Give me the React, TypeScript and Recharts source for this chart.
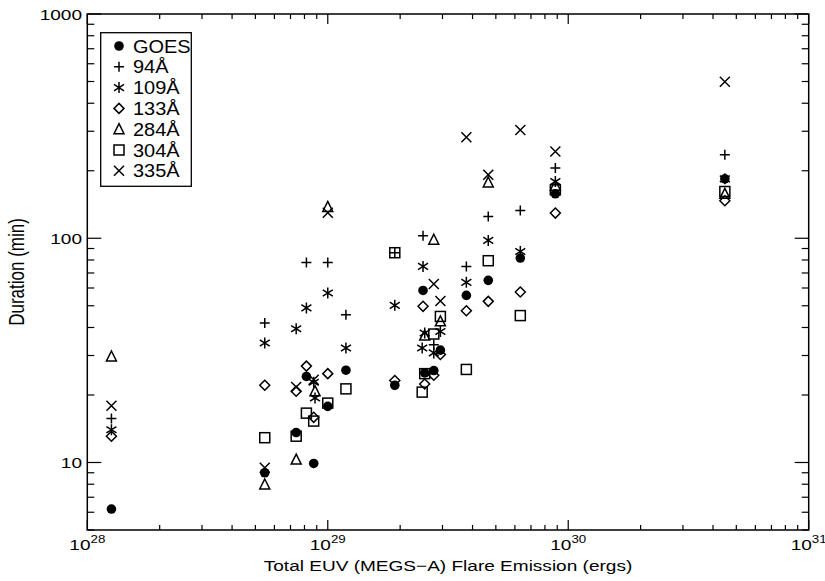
import { ScatterChart, Scatter, XAxis, YAxis, ReferenceArea, Legend } from 'recharts';

// flare energies (ergs) and the duration (min) seen in each channel; null = no measurement
const flareEnergy = [
  1.26e28, 5.47e28, 7.39e28, 8.15e28, 8.74e28, 8.85e28, 1.0e29, 1.19e29, 1.9e29, 2.47e29,
  2.49e29, 2.53e29, 2.76e29, 2.94e29, 3.77e29, 4.65e29, 6.32e29, 8.84e29, 4.48e30,
];
const goesDuration = [6.2, 9.0, 13.6, 24.2, 9.9, null, 17.8, 25.8, 22.1, null, 58.5, 25.1, 25.7, 31.7, 55.6, 64.9, 81.6, 157.8, 184];
const duration94 = [15.7, 41.9, null, 78.0, null, null, 78.0, 45.6, 86.2, null, 102.6, null, 33.5, null, 74.9, 125, 133, 205.5, 235.5];
const duration109 = [14.0, 34.1, 39.5, 48.9, 22.8, 19.4, 57.0, 32.4, 50.2, 32.4, 74.9, 37.8, 30.8, 38.4, 63.6, 97.8, 87.3, 179, 184];
const duration133 = [13.1, 22.1, 20.8, 26.9, 15.9, null, 24.9, null, 23.2, null, 49.7, 22.4, 24.5, 30.3, 47.5, 52.3, 57.6, 129.5, 146.9];
const duration284 = [29.7, 7.98, 10.3, null, null, 20.8, 138, null, null, null, null, 36.8, 98.5, 42.6, null, 177.3, null, 171.5, 157.8];
const duration304 = [null, 12.9, 13.1, 16.6, 15.3, null, 18.4, 21.3, 86.2, 20.6, null, 24.9, 37.4, 44.8, 26.0, 79.4, 45.2, 164.4, 161.6];
const duration335 = [17.9, 9.47, 21.7, null, 23.4, null, 130, null, null, null, null, null, 62.5, 52.5, 282, 191.8, 304, 243.6, 499];

const channelNames = ['GOES', '94Å', '109Å', '133Å', '284Å', '304Å', '335Å'];
const channelSymbols = ['dot', 'plus', 'star', 'diamond', 'triangle', 'square', 'cross'];
const channelDurations = [goesDuration, duration94, duration109, duration133, duration284, duration304, duration335];

const xMajorTicks = [1e28, 1e29, 1e30, 1e31];
const yMajorTicks = [10, 100, 1000];
const minorMantissa = [2, 3, 4, 5, 6, 7, 8, 9];

const xTicks = xMajorTicks.flatMap((d, i) =>
  i < xMajorTicks.length - 1 ? [d, ...minorMantissa.map((m) => m * d)] : [d]
);
const yTicks = [5, 6, 7, 8, 9, ...yMajorTicks.flatMap((d, i) =>
  i < yMajorTicks.length - 1 ? [d, ...minorMantissa.map((m) => m * d)] : [d]
)];

const W = 825;
const H = 581;
const PLOT_LEFT = 87.3;
const PLOT_RIGHT = 808.7;
const PLOT_TOP = 14;
const PLOT_BOTTOM = 530;
const Y_AXIS_W = 60;
const X_AXIS_H = 30;
const FONT = '"Liberation Sans", Arial, Helvetica, sans-serif';
const STRETCH = 1.27;
const INK = 1.5;

function Mark({ kind, cx, cy }: { kind: string; cx: number; cy: number }) {
  const s = 5;
  const line = { stroke: '#000', strokeWidth: INK, fill: 'none' };
  switch (kind) {
    case 'dot':
      return <circle cx={cx} cy={cy} r={4.8} fill="#000" />;
    case 'plus':
      return <path d={`M${cx - s},${cy}H${cx + s}M${cx},${cy - s}V${cy + s}`} {...line} />;
    case 'star':
      return (
        <path
          d={`M${cx},${cy - 5.5}V${cy + 5.5}M${cx - 5},${cy - 3.2}L${cx + 5},${cy + 3.2}M${cx - 5},${cy + 3.2}L${cx + 5},${cy - 3.2}`}
          {...line}
        />
      );
    case 'diamond':
      return <path d={`M${cx},${cy - s}L${cx + s},${cy}L${cx},${cy + s}L${cx - s},${cy}Z`} {...line} />;
    case 'triangle':
      return <path d={`M${cx},${cy - 5.5}L${cx + 5},${cy + 4.5}L${cx - 5},${cy + 4.5}Z`} {...line} />;
    case 'square':
      return <rect x={cx - s} y={cy - s} width={2 * s} height={2 * s} {...line} />;
    case 'cross':
      return <path d={`M${cx - s},${cy - s}L${cx + s},${cy + s}M${cx - s},${cy + s}L${cx + s},${cy - s}`} {...line} />;
    default:
      return null;
  }
}

function XTick(props: any) {
  const { x, payload } = props;
  const v = payload.value;
  const exp = Math.round(Math.log10(v));
  const major = Math.abs(v - Math.pow(10, exp)) / v < 1e-6;
  const len = major ? 10 : 5;
  return (
    <g>
      <line x1={x} x2={x} y1={PLOT_BOTTOM} y2={PLOT_BOTTOM - len} stroke="#000" strokeWidth={1.2} />
      <line x1={x} x2={x} y1={PLOT_TOP} y2={PLOT_TOP + len} stroke="#000" strokeWidth={1.2} />
      {major && (
        <text
          transform={`translate(${x},550) scale(${STRETCH},1)`}
          textAnchor="middle"
          fontSize={15}
          fontFamily={FONT}
          fill="#000"
        >
          10<tspan fontSize={10.5} dy={-7}>{exp}</tspan>
        </text>
      )}
    </g>
  );
}

function YTick(props: any) {
  const { y, payload } = props;
  const v = payload.value;
  const major = yMajorTicks.includes(v);
  const len = major ? 14 : 7;
  return (
    <g>
      <line x1={PLOT_LEFT} x2={PLOT_LEFT + len} y1={y} y2={y} stroke="#000" strokeWidth={1.2} />
      <line x1={PLOT_RIGHT} x2={PLOT_RIGHT - len} y1={y} y2={y} stroke="#000" strokeWidth={1.2} />
      {major && (
        <text
          transform={`translate(82,${y + 6}) scale(${STRETCH},1)`}
          textAnchor="end"
          fontSize={15}
          fontFamily={FONT}
          fill="#000"
        >
          {v}
        </text>
      )}
    </g>
  );
}

function LegendBox() {
  return (
    <svg width={92} height={155} style={{ display: 'block' }}>
      <rect x={0.7} y={0.7} width={90.6} height={153.6} fill="#fff" stroke="#000" strokeWidth={1.3} />
      {channelNames.map((name, i) => {
        const cy = 14 + i * 20.8;
        return (
          <g key={name}>
            <Mark kind={channelSymbols[i]} cx={19} cy={cy} />
            <text
              transform={`translate(33,${cy + 6.5}) scale(1.11,1)`}
              fontSize={18}
              fontFamily={FONT}
              fill="#000"
            >
              {name}
            </text>
          </g>
        );
      })}
    </svg>
  );
}

export default function App() {
  const series = channelNames.map((name, i) => ({
    name,
    kind: channelSymbols[i],
    points: flareEnergy
      .map((e, j) => ({ x: e, y: channelDurations[i][j] }))
      .filter((p) => p.y != null),
  }));

  return (
    <div style={{ position: 'absolute', left: 0, top: 0, width: W, height: H, background: '#fff' }}>
      <ScatterChart
        width={W}
        height={H}
        margin={{
          top: PLOT_TOP,
          right: W - PLOT_RIGHT,
          bottom: H - PLOT_BOTTOM - X_AXIS_H,
          left: PLOT_LEFT - Y_AXIS_W,
        }}
      >
        <XAxis
          type="number"
          dataKey="x"
          scale="log"
          domain={[1e28, 1e31]}
          allowDataOverflow
          ticks={xTicks}
          interval={0}
          height={X_AXIS_H}
          tickLine={false}
          axisLine={false}
          tick={(p: any) => <XTick {...p} />}
        />
        <YAxis
          type="number"
          dataKey="y"
          scale="log"
          domain={[5, 1000]}
          allowDataOverflow
          ticks={yTicks}
          interval={0}
          width={Y_AXIS_W}
          tickLine={false}
          axisLine={false}
          tick={(p: any) => <YTick {...p} />}
        />
        <ReferenceArea x1={1e28} x2={1e31} y1={5} y2={1000} fill="none" stroke="#000" strokeWidth={1.5} fillOpacity={0} />
        {series.map((s) => (
          <Scatter
            key={s.name}
            name={s.name}
            data={s.points}
            isAnimationActive={false}
            shape={(p: any) => <Mark kind={s.kind} cx={p.cx} cy={p.cy} />}
          />
        ))}
        <Legend
          layout="vertical"
          align="center"
          verticalAlign="middle"
          wrapperStyle={{ left: 100, top: 32, width: 92, height: 155 }}
          content={() => <LegendBox />}
        />
        <text
          transform={`translate(${(PLOT_LEFT + PLOT_RIGHT) / 2},571) scale(${STRETCH},1)`}
          textAnchor="middle"
          fontSize={15}
          fontFamily={FONT}
          fill="#000"
        >
          Total EUV (MEGS−A) Flare Emission (ergs)
        </text>
        <text
          transform={`translate(24,${(PLOT_TOP + PLOT_BOTTOM) / 2}) scale(${STRETCH},1) rotate(-90)`}
          textAnchor="middle"
          fontSize={17}
          fontFamily={FONT}
          fill="#000"
        >
          Duration (min)
        </text>
      </ScatterChart>
    </div>
  );
}
